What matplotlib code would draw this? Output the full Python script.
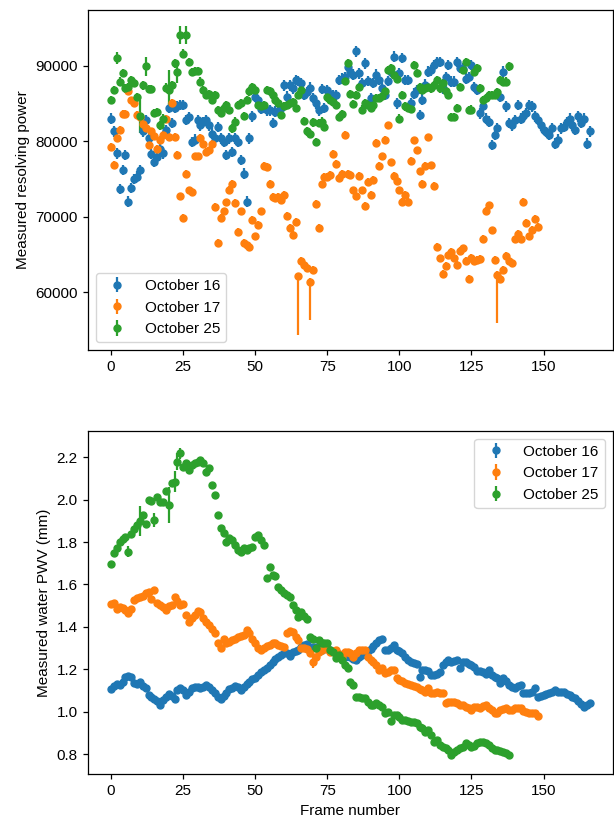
import numpy as np
import matplotlib
matplotlib.use("Agg")
import matplotlib.pyplot as plt

plt.rcParams['font.family'] = ['Liberation Sans', 'DejaVu Sans']
plt.rcParams['font.size'] = 11
plt.rcParams['axes.linewidth'] = 0.9
plt.rcParams['xtick.major.size'] = 3.8
plt.rcParams['ytick.major.size'] = 3.8
plt.rcParams['xtick.major.width'] = 0.9
plt.rcParams['ytick.major.width'] = 0.9

labels = ["October 16", "October 17", "October 25"]
colors = ["#1f77b4", "#ff7f0e", "#2ca02c"]

# ---------------- resolving power ----------------
rp_oct16 = [
    83000, 81300, 78400, 73700, 76200, 78200, 72000, 73800, 75000, 75300,
    76200, 81300, 82800, 80400, 78300, 77300, 77900, 79000, 78400, 81500,
    84400, 82400, 84400, 84600, 84800, 84800, 82800, 83200, 79900, 80200,
    82800, 82100, 82500, 82800, 82100, 81000, 80400, 81900, 80400, 79900,
    78200, 80400, 78600, 80400, 79900, 77500, 75700, 72000, 80400, 83300,
    85900, 85400, 84300, 84400, 84100, 84100, 82400, 83900, 84000, 84400,
    87400, 85900, 87400, 87000, 88100, 88000, 87700, 86100, 86500, 87100,
    85700, 85000, 84100, 86900, 84400, 86800, 86300, 86100, 86100, 88100,
    88300, 88500, 89800, 89200, 88800, 91900, 89000, 87700, 90300, 88000,
    85700, 87700, 88800, 88100, 87000, 86100, 88000, 89200, 91200, 85000,
    89000, 91000, 88100, 88100, 85000, 86300, 86800, 83500, 85500, 87500,
    89200, 89400, 90100, 90500, 90500, 87000, 88500, 90100, 87900, 87900,
    90500, 89700, 89600, 88300, 88500, 90100, 87200, 86800, 83700, 84600,
    83000, 82600, 79500, 80800, 81700, 85900, 89200, 84600, 82400, 82100,
    82800, 84800, 83000, 83300, 83700, 84800, 84600, 83300, 82800, 82100,
    81500, 81200, 80800, 81700, 79700, 80200, 81700, 81900, 82500, 83000,
    82100, 81500, 83300, 82400, 83000, 79700, 81300]

rp_oct17 = [
    79300, 76900, 80400, 81500, 83600, 83600, 86700, 85400, 85100, 83500,
    83200, 82300, 81800, 79500, 81300, 80700, 79000, 80200, 80800, 83000,
    80600, 85100, 80600, 78200, 72700, 69900, 75700, 73500, 73300, 78000,
    78000, 80400, 79700, 78600, 78800, 79700, 71300, 66500, 69800, 70700,
    71900, 73600, 74400, 71800, 68000, 70700, 66500, 66200, 66000, 69600,
    67400, 68900, 70700, 76700, 76600, 74400, 72600, 72500, 72600, 72200,
    72900, 70100, 68500, 67600, 69300, 62100, 64200, 63600, 63200, 61400,
    63000, 71700, 68500, 74300, 75300, 75300, 75500, 78300, 77000, 75100,
    75700, 80800, 75700, 75500, 73500, 72700, 75400, 73500, 71400, 74600,
    72900, 74900, 79800, 76700, 78000, 80200, 82100, 77200, 75400, 74800,
    73500, 72000, 72900, 72000, 77400, 80100, 78800, 76000, 74400, 76700,
    80500, 76800, 74100, 66000, 64500, 62400, 63500, 64900, 65400, 64500,
    63600, 65500, 65800, 64200, 61800, 64600, 64200, 64300, 64400, 67100,
    70800, 71500, 68200, 64300, 62300, 61800, 63000, 64800, 64200, 63900,
    67000, 67700, 67100, 72000, 69200, 67400, 68300, 69700, 68700]

rp_oct25 = [
    85500, 86800, 91000, 87900, 89000, 87000, 87200, 88100, 87700, 85900,
    83300, 87400, 89900, 86900, 86900, 83700, 83900, 82100, 83000, 87100,
    86800, 87400, 90300, 89200, 94100, 91600, 94100, 90500, 89200, 89300,
    89300, 87900, 86800, 86100, 86300, 85500, 86100, 84100, 83700, 84400,
    84800, 84100, 81700, 82600, 84800, 85000, 83300, 85500, 86600, 87200,
    86800, 84800, 84600, 84800, 86800, 86600, 86100, 85500, 85000, 83500,
    84600, 84800, 85000, 85200, 84400, 86100, 86800, 82700, 81300, 81000,
    82500, 79900, 82400, 82600, 81900, 85800, 85500, 85200, 84800, 83200,
    83600, 88000, 90300, 86300, 84900, 86100, 87200, 84200, 85000, 84800,
    84400, 84800, 85700, 85700, 86000, 86600, 89400, 89700, 88800, 88300,
    83000, 86100, 84600, 84400, 84300, 90100, 89000, 87200, 86800, 87000,
    87200, 87000, 87400, 88100, 87000, 87700, 86600, 86100, 83200, 83200,
    84400, 87200, 89400, 90500, 84100, 84200, 89200, 89700, 87000, 85500,
    85700, 86100, 86100, 86100, 86500, 88100, 87900, 87900, 89900]

rp_err_base = [700, 500, 550]
rp_err_big = [{}, {}, {2: 800, 10: 2200, 12: 1300, 20: 2650, 23: 1550,
                      24: 1200, 26: 1200}]
rp_err_low_big = [{}, {65: 7800, 69: 5100, 134: 6400}, {}]

# ---------------- PWV ----------------
pwv_oct16 = [
    1.105, 1.12, 1.13, 1.125, 1.14, 1.165, 1.17, 1.165, 1.135, 1.13,
    1.14, 1.12, 1.11, 1.08, 1.07, 1.06, 1.052, 1.03, 1.055, 1.07,
    1.085, 1.072, 1.062, 1.10, 1.11, 1.10, 1.08, 1.095, 1.11, 1.118,
    1.115, 1.113, 1.118, 1.124, 1.118, 1.10, 1.087, 1.068, 1.06, 1.074,
    1.087, 1.105, 1.11, 1.121, 1.118, 1.10, 1.115, 1.13, 1.142, 1.155,
    1.16, 1.175, 1.188, 1.195, 1.205, 1.22, 1.236, 1.248, 1.256, 1.265,
    1.275, 1.278, 1.262, 1.28, 1.285, 1.29, 1.305, 1.315, 1.32, 1.30,
    1.305, 1.307, 1.30, 1.29, 1.305, 1.30, 1.29, 1.288, 1.283, 1.27,
    1.265, 1.26, 1.262, 1.258, 1.25, 1.244, 1.258, 1.268, 1.275, 1.285,
    1.295, 1.31, 1.325, 1.338, 1.342, 1.29, 1.29, 1.30, 1.315, 1.29,
    1.285, 1.275, 1.26, 1.245, 1.236, 1.23, 1.225, 1.165, 1.197, 1.197,
    1.19, 1.173, 1.175, 1.18, 1.185, 1.22, 1.235, 1.244, 1.232, 1.24,
    1.244, 1.205, 1.236, 1.232, 1.225, 1.22, 1.21, 1.19, 1.19, 1.185,
    1.18, 1.197, 1.173, 1.165, 1.16, 1.134, 1.157, 1.145, 1.126, 1.118,
    1.11, 1.12, 1.126, 1.087, 1.087, 1.09, 1.095, 1.11, 1.071, 1.075,
    1.079, 1.082, 1.087, 1.095, 1.102, 1.094, 1.094, 1.094, 1.085, 1.079,
    1.07, 1.063, 1.05, 1.035, 1.024, 1.032, 1.039]

pwv_oct17 = [
    1.51, 1.515, 1.485, 1.496, 1.49, 1.48, 1.465, 1.485, 1.527, 1.535,
    1.543, 1.548, 1.558, 1.566, 1.53, 1.574, 1.511, 1.503, 1.496, 1.48,
    1.498, 1.503, 1.543, 1.52, 1.503, 1.51, 1.456, 1.425, 1.44, 1.456,
    1.475, 1.472, 1.44, 1.425, 1.41, 1.39, 1.37, 1.325, 1.30, 1.345,
    1.323, 1.33, 1.338, 1.345, 1.35, 1.358, 1.362, 1.385, 1.37, 1.345,
    1.323, 1.30, 1.29, 1.30, 1.31, 1.315, 1.323, 1.325, 1.315, 1.31,
    1.307, 1.37, 1.38, 1.377, 1.35, 1.338, 1.30, 1.30, 1.295, 1.275,
    1.236, 1.259, 1.28, 1.291, 1.299, 1.295, 1.283, 1.288, 1.291, 1.27,
    1.259, 1.283, 1.283, 1.275, 1.259, 1.275, 1.291, 1.29, 1.291, 1.259,
    1.245, 1.236, 1.22, 1.197, 1.205, 1.181, 1.189, 1.195, 1.197, 1.157,
    1.15, 1.145, 1.134, 1.13, 1.126, 1.12, 1.118, 1.105, 1.10, 1.094,
    1.11, 1.09, 1.087, 1.094, 1.09, 1.087, 1.04, 1.045, 1.047, 1.047,
    1.04, 1.032, 1.03, 1.024, 1.016, 1.008, 1.02, 1.024, 1.016, 1.025,
    1.032, 1.015, 1.008, 0.995, 0.992, 1.008, 1.012, 1.016, 1.01, 1.008,
    1.016, 1.016, 1.016, 1.005, 1.0, 0.995, 0.992, 0.992, 0.98]

pwv_oct25 = [
    1.697, 1.75, 1.77, 1.80, 1.815, 1.826, 1.755, 1.84, 1.86, 1.88,
    1.90, 1.928, 1.885, 1.999, 1.995, 1.904, 2.014, 1.99, 1.991, 2.043,
    1.975, 2.08, 2.085, 2.179, 2.219, 2.156, 2.172, 2.14, 2.164, 2.172,
    2.18, 2.187, 2.172, 2.132, 2.148, 2.07, 2.02, 1.928, 1.865, 1.845,
    1.80, 1.818, 1.81, 1.786, 1.763, 1.755, 1.771, 1.763, 1.77, 1.778,
    1.826, 1.833, 1.81, 1.786, 1.629, 1.684, 1.645, 1.64, 1.59, 1.574,
    1.56, 1.551, 1.543, 1.503, 1.48, 1.448, 1.472, 1.45, 1.436, 1.354,
    1.341, 1.299, 1.338, 1.323, 1.323, 1.323, 1.291, 1.283, 1.252, 1.267,
    1.244, 1.22, 1.205, 1.142, 1.126, 1.071, 1.071, 1.063, 1.063, 1.047,
    1.032, 1.032, 1.039, 1.032, 1.02, 0.992, 1.0, 0.958, 0.984, 0.984,
    0.975, 0.961, 0.961, 0.958, 0.953, 0.95, 0.945, 0.929, 0.921, 0.906,
    0.914, 0.89, 0.859, 0.866, 0.843, 0.835, 0.827, 0.819, 0.796, 0.811,
    0.82, 0.827, 0.835, 0.851, 0.845, 0.835, 0.838, 0.851, 0.855, 0.859,
    0.85, 0.843, 0.83, 0.819, 0.819, 0.815, 0.811, 0.805, 0.796]

pwv_err_base = [0.006, 0.008, 0.009]
pwv_err_big = [{}, {70: 0.03}, {6: 0.025, 10: 0.07, 15: 0.035, 20: 0.085,
                              22: 0.05, 23: 0.04, 24: 0.025}]

W, H = 614, 819
fig = plt.figure(figsize=(W / 100, H / 100), dpi=100)


def ax_rect(l, r, t, b):
    return [l / W, 1 - b / H, (r - l) / W, (b - t) / H]


ax1 = fig.add_axes(ax_rect(88, 612.5, 10, 350))
ax2 = fig.add_axes(ax_rect(88, 612.5, 431, 774))

for i, vals in enumerate([rp_oct16, rp_oct17, rp_oct25]):
    n = len(vals)
    x = np.arange(n)
    up = np.full(n, float(rp_err_base[i]))
    for k, v in rp_err_big[i].items():
        up[k] = v
    lo = up.copy()
    for k, v in rp_err_low_big[i].items():
        lo[k] = v
    ax1.errorbar(x, vals, yerr=[lo, up], fmt='o', ms=5, color=colors[i],
                 elinewidth=1.6, label=labels[i])

for i, vals in enumerate([pwv_oct16, pwv_oct17, pwv_oct25]):
    n = len(vals)
    x = np.arange(n)
    e = np.full(n, float(pwv_err_base[i]))
    for k, v in pwv_err_big[i].items():
        e[k] = v
    ax2.errorbar(x, vals, yerr=e, fmt='o', ms=5, color=colors[i],
                 elinewidth=1.6, label=labels[i])

for ax in (ax1, ax2):
    ax.set_xlim(-8.0, 173.9)
    ax.set_xticks([0, 25, 50, 75, 100, 125, 150])

ax1.set_ylim(52358, 97377)
ax1.set_yticks([60000, 70000, 80000, 90000])
ax2.set_ylim(0.706, 2.324)
ax2.set_yticks([0.8, 1.0, 1.2, 1.4, 1.6, 1.8, 2.0, 2.2])
ax2.set_yticklabels(["0.8", "1.0", "1.2", "1.4", "1.6", "1.8", "2.0", "2.2"])

ax1.set_ylabel("Measured resolving power")
ax2.set_ylabel("Measured water PWV (mm)")
ax2.set_xlabel("Frame number")

ax1.legend(loc='lower left')
ax2.legend(loc='upper right')

fig.savefig("out.png", dpi=100)
